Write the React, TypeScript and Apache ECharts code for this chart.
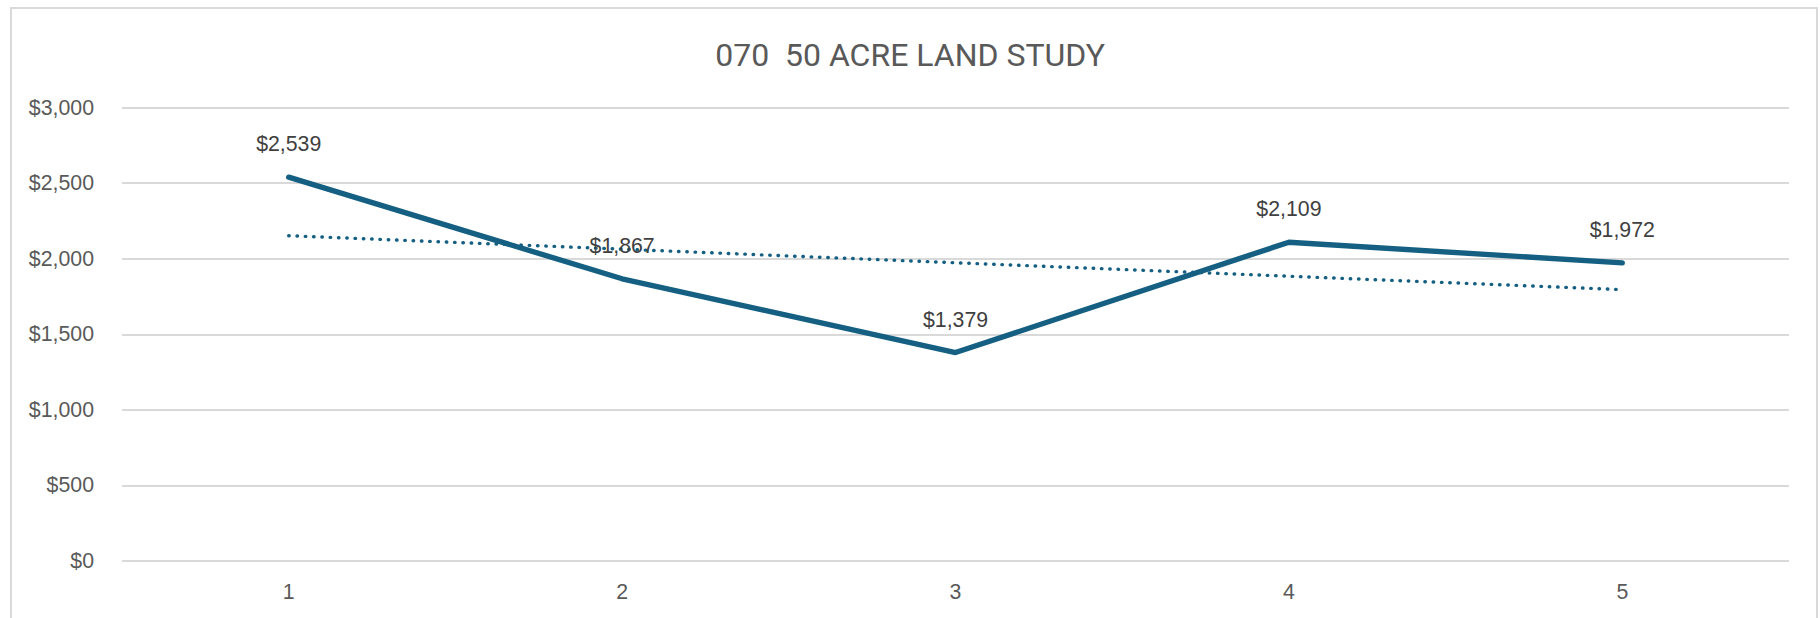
import React, { useEffect, useRef } from "react";
import * as echarts from "echarts";

const categories = ["1", "2", "3", "4", "5"];
const values = [2539, 1867, 1379, 2109, 1972];
const trendValues = [2152, 2063, 1973, 1884, 1795];
const yTicks = { min: 0, max: 3000, interval: 500 };
const titleText = "070  50 ACRE LAND STUDY";

const fmt = (v: number) => "$" + Math.round(v).toLocaleString("en-US");

export default function App() {
  const ref = useRef<HTMLDivElement>(null);
  useEffect(() => {
    if (!ref.current) return;
    const chart = echarts.init(ref.current, null, { renderer: "svg" });
    chart.setOption({
      animation: false,
      backgroundColor: "#ffffff",
      title: {
        text: titleText,
        left: "center",
        top: 34,
        textStyle: {
          fontFamily: "Roboto",
          fontSize: 32,
          fontWeight: "normal",
          color: "#595959",
        },
      },
      graphic: [
        {
          type: "rect",
          shape: { x: 11, y: 8, width: 1806, height: 700 },
          style: { fill: "none", stroke: "#d9d9d9", lineWidth: 2 },
          silent: true,
        },
      ],
      grid: { left: 122, right: 31, top: 107.5, bottom: 57 },
      xAxis: {
        type: "category",
        data: categories,
        boundaryGap: true,
        axisLine: { show: false },
        axisTick: { show: false },
        axisLabel: {
          margin: 20,
          fontFamily: "Liberation Sans",
          fontSize: 21.3,
          color: "#595959",
        },
      },
      yAxis: {
        type: "value",
        min: yTicks.min,
        max: yTicks.max,
        interval: yTicks.interval,
        axisLine: { show: false },
        axisTick: { show: false },
        splitLine: { lineStyle: { color: "#d9d9d9", width: 1.8 } },
        axisLabel: {
          margin: 28,
          fontFamily: "Liberation Sans",
          fontSize: 21.3,
          color: "#595959",
          formatter: (v: number) => fmt(v),
        },
      },
      series: [
        {
          type: "line",
          data: trendValues,
          symbol: "none",
          lineStyle: {
            color: "#156082",
            width: 3.4,
            type: [0.5, 7.8],
            cap: "round",
          },
          z: 2,
        },
        {
          type: "line",
          data: values,
          symbol: "circle",
          symbolSize: 1,
          showSymbol: true,
          itemStyle: { color: "#156082" },
          lineStyle: { color: "#156082", width: 5.4, cap: "round", join: "round" },
          label: {
            show: true,
            position: "top",
            distance: 22,
            fontFamily: "Liberation Sans",
            fontSize: 21.3,
            color: "#404040",
            formatter: (p: any) => fmt(p.value),
          },
          z: 3,
        },
      ],
    });
    return () => chart.dispose();
  }, []);
  return (
    <div
      ref={ref}
      style={{ position: "fixed", left: 0, top: 0, width: 1820, height: 618 }}
    />
  );
}
